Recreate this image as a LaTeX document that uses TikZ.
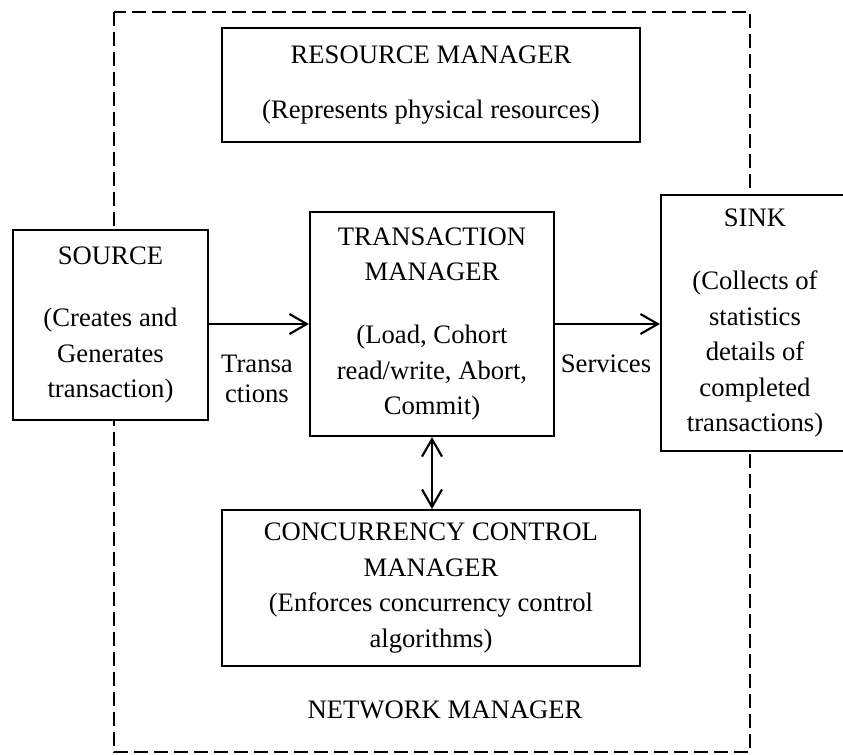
\documentclass[tikz,border=0pt]{standalone}
\usepackage{fontspec}
\setmainfont{Liberation Serif}
\usetikzlibrary{arrows.meta}
\tikzset{
  box/.style={draw, fill=white, line width=1.6pt, align=center, inner sep=0pt,
    font=\fontsize{20}{26.6}\selectfont},
  lbl/.style={align=center, inner sep=0pt, font=\fontsize{20}{22.5}\selectfont},
  arr/.style={line width=1.6pt, -{Straight Barb[length=13pt,width=15pt,line width=1.6pt]}},
  darr/.style={line width=1.6pt, {Straight Barb[length=13pt,width=15pt,line width=1.6pt]}-{Straight Barb[length=13pt,width=15pt,line width=1.6pt]}},
  netbox/.style={line width=1.4pt, dash pattern=on 10.5pt off 4.5pt}
}
\begin{document}
\begin{tikzpicture}[x=0.75pt,y=-0.75pt]
\useasboundingbox (0,0) rectangle (843,754);
\clip (0,0) rectangle (843,754);
\fill[white] (0,0) rectangle (843,754);
% network manager dashed frame
\coordinate (nw) at (114,12);
\coordinate (se) at (750,752);
\draw[netbox] (nw) rectangle (se);
\node[lbl] (net) at (445,710) {NETWORK MANAGER};
% boxes
\node[box, minimum width=313.5pt, minimum height=85.5pt] (rm) at (431,85)
  {RESOURCE MANAGER\\[14pt](Represents physical resources)};
\node[box, minimum width=146.25pt, minimum height=142.5pt] (src) at (110.5,325)
  {SOURCE\\[20pt](Creates and\\Generates\\transaction)};
\node[box, minimum width=183pt, minimum height=168pt] (tm) at (432,324)
  {TRANSACTION\\MANAGER\\[21pt](Load, Cohort\\read/write, Abort,\\Commit)};
\node[box, minimum width=141pt, minimum height=192pt] (sink) at (755,323)
  {SINK\\[21pt](Collects of\\statistics\\details of\\completed\\transactions)};
\node[box, minimum width=313.5pt, minimum height=117pt] (ccm) at (431,588)
  {CONCURRENCY CONTROL\\MANAGER\\(Enforces concurrency control\\algorithms)};
% connectors
\draw[arr] (src.east |- 0,324) -- (tm.west |- 0,324);
\draw[arr] (tm.east |- 0,324) -- (sink.west |- 0,324);
\draw[darr] (tm.south) -- (tm.south |- ccm.north);
% labels
\node[lbl] (tlab) at (257,379) {Transa\\ctions};
\node[lbl] (slab) at (606,364) {Services};
\end{tikzpicture}
\end{document}
